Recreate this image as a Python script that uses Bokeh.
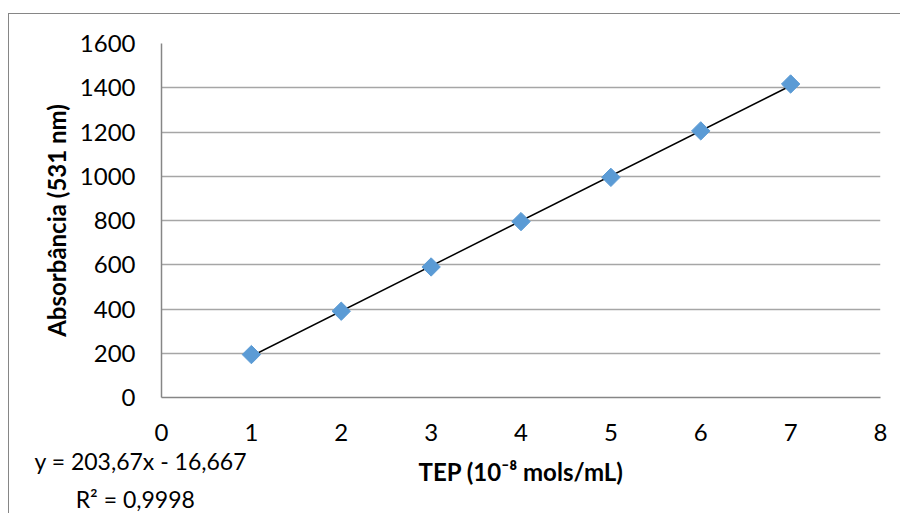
from bokeh.plotting import figure
from bokeh.models import Title, FixedTicker, Range1d
from bokeh.embed import file_html
from bokeh.resources import INLINE

# Data
tep = [1, 2, 3, 4, 5, 6, 7]
absorbancia = [194, 390, 590, 795, 995, 1205, 1417]
slope = 203.67
intercept = -16.667
x_ticks = [0, 1, 2, 3, 4, 5, 6, 7, 8]
y_ticks = [0, 200, 400, 600, 800, 1000, 1200, 1400, 1600]
eq_text = "y = 203,67x - 16,667"
r2_text = "R\u00b2 = 0,9998"
x_title = "TEP (10\u207b\u2078 mols/mL)"
y_title = "Absorb\u00e2ncia (531 nm)"

FONT = "Lato"

p = figure(width=892, height=500, output_backend="svg", toolbar_location=None,
           x_range=Range1d(0, 8), y_range=Range1d(0, 1600),
           min_border_left=152, min_border_right=21, min_border_top=29,
           min_border_bottom=117)
p.styles = {"margin-left": "8px", "margin-top": "13px",
            "border-top": "1px solid #868686", "border-left": "1px solid #868686"}
p.outline_line_color = None
p.background_fill_color = "white"
p.border_fill_color = "white"

p.xaxis.ticker = FixedTicker(ticks=x_ticks)
p.yaxis.ticker = FixedTicker(ticks=y_ticks)
for ax in (p.xaxis[0], p.yaxis[0]):
    ax.axis_line_color = "#868686"
    ax.axis_line_width = 1.5
    ax.major_tick_line_color = None
    ax.minor_tick_line_color = None
    ax.major_label_text_font = FONT
    ax.major_label_text_font_size = "24px"
    ax.major_label_text_color = "black"
    ax.axis_label_text_font = FONT
    ax.axis_label_text_font_style = "bold"
    ax.axis_label_text_color = "black"
    ax.axis_label_text_font_size = "24px"

p.xaxis.major_label_standoff = 20
p.yaxis.major_label_standoff = 20
p.xaxis.axis_label = x_title
p.yaxis.axis_label = y_title
p.xaxis.axis_label_standoff = 13
p.yaxis.axis_label_standoff = 6

p.xgrid.grid_line_color = None
p.ygrid.grid_line_color = "#a6a6a6"
p.ygrid.grid_line_width = 1.5

# trend line
x0, x1 = tep[0], tep[-1]
p.line([x0, x1], [slope * x0 + intercept, slope * x1 + intercept],
       line_color="black", line_width=1.5)

# markers (rotated squares = diamonds)
p.scatter(tep, absorbancia, marker="square", size=13, angle=0.7853981634,
          fill_color="#5B9BD5", line_color="#5B9BD5")

# equation of the trend line (second line indented to look centred)
eq = Title(text=eq_text + "\n" + "\u00a0" * 7 + r2_text, align="left",
           vertical_align="top", offset=-127, standoff=-83,
           text_font=FONT, text_font_size="23px",
           text_line_height=1.36, text_font_style="normal", text_color="black")
p.add_layout(eq, "below")

open("out.html", "w").write(file_html(p, INLINE))
